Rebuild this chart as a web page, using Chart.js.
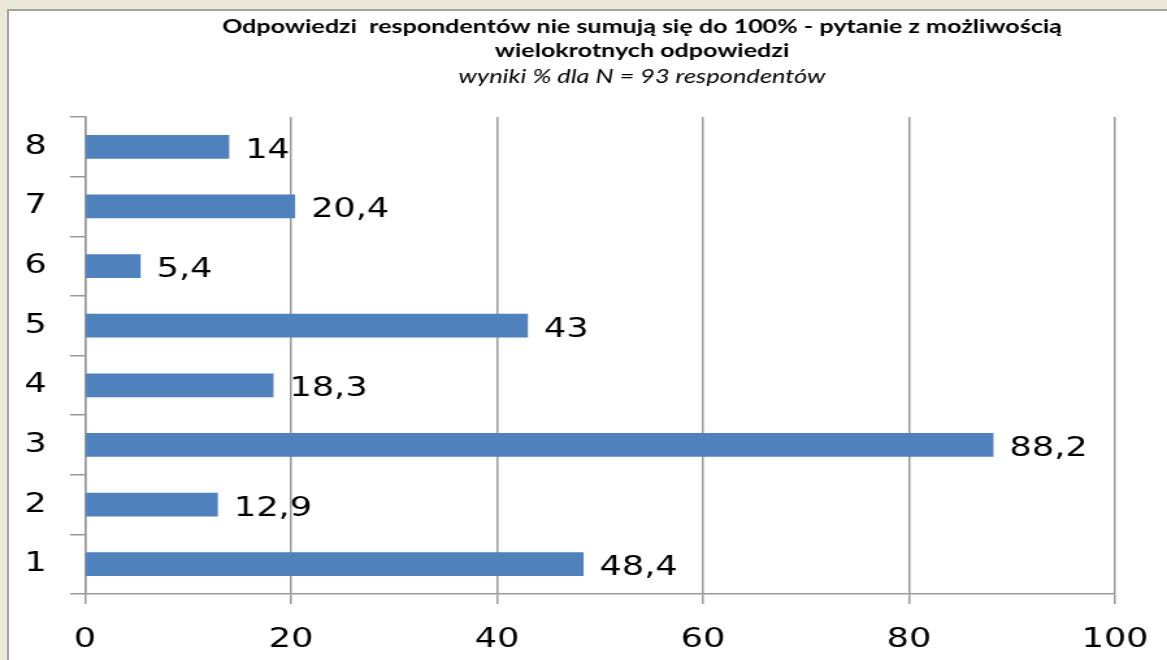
<!DOCTYPE html>
<html>
<head>
<meta charset="utf-8">
<script src="https://cdn.jsdelivr.net/npm/chart.js@4/dist/chart.umd.min.js"></script>
<style>
  html, body { margin: 0; padding: 0; width: 1167px; height: 660px; overflow: hidden; background: #ECE9D8; }
  #frame { position: absolute; left: 7px; top: 9px; width: 1200px; height: 700px; background: #ffffff;
           border-left: 2px solid #a3a3a3; border-top: 2px solid #a3a3a3; }
  #c { position: absolute; left: 0; top: 0; transform-origin: 0 0; }
</style>
</head>
<body>
<div id="frame"></div>
<canvas id="c" width="898" height="660"></canvas>
<script>
// ---- data ----
const categories = ['1', '2', '3', '4', '5', '6', '7', '8'];
const values = [48.4, 12.9, 88.2, 18.3, 43, 5.4, 20.4, 14];
const xTickValues = [0, 20, 40, 60, 80, 100];
const titleLines = ['Odpowiedzi  respondentów nie sumują się do 100% - pytanie z możliwością', 'wielokrotnych odpowiedzi'];
const subtitleText = 'wyniki % dla N = 93 respondentów';

// ---- horizontal stretch of the original picture ----
const LOGICAL_W = 898;
const S = 1167 / LOGICAL_W;
const canvas = document.getElementById('c');
canvas.style.transform = 'scaleX(' + S + ')';

const GRID = '#999999';
const TICK_FONT = { family: 'DejaVu Sans', size: 27 };
const X_TICK_FONT = { family: 'DejaVu Sans', size: 27, lineHeight: 2.25 };

function fitSize(ctx, text, style, family, targetW) {
  ctx.font = style + ' 100px ' + family;
  const w = ctx.measureText(text).width;
  return 100 * targetW / w;
}

const titlePlugin = {
  id: 'titles',
  afterDraw(chart) {
    const ctx = chart.ctx;
    ctx.save();
    ctx.fillStyle = '#000';
    ctx.textAlign = 'center';
    ctx.textBaseline = 'alphabetic';
    const cx = 642 / S;
    const fam = 'Lato';
    const s1 = fitSize(ctx, titleLines[0], 'bold', fam, 840 / S);
    ctx.font = 'bold ' + s1 + 'px ' + fam;
    ctx.fillText(titleLines[0], cx, 33);
    ctx.fillText(titleLines[1], cx, 57);
    const s2 = fitSize(ctx, subtitleText, 'italic', fam, 367 / S);
    ctx.font = 'italic ' + s2 + 'px ' + fam;
    ctx.fillText(subtitleText, cx, 83);
    ctx.restore();
  }
};

const valueLabelPlugin = {
  id: 'valueLabels',
  afterDatasetsDraw(chart) {
    const ctx = chart.ctx;
    const meta = chart.getDatasetMeta(0);
    ctx.save();
    ctx.fillStyle = '#000';
    ctx.font = TICK_FONT.size + 'px ' + TICK_FONT.family;
    ctx.textAlign = 'left';
    ctx.textBaseline = 'middle';
    meta.data.forEach((bar, i) => {
      const txt = String(values[i]).replace('.', ',');
      ctx.fillText(txt, bar.x + 16 / S, bar.y + 4);
    });
    ctx.restore();
  }
};

new Chart(canvas, {
  type: 'bar',
  data: {
    labels: categories,
    datasets: [{
      data: values,
      backgroundColor: '#4F81BD',
      borderWidth: 0,
      barPercentage: 0.4,
      categoryPercentage: 1.0
    }]
  },
  options: {
    indexAxis: 'y',
    responsive: false,
    animation: false,
    layout: { padding: { top: 117, right: 52 / S, left: 0, bottom: 0 } },
    plugins: { legend: { display: false }, tooltip: { enabled: false }, title: { display: false } },
    scales: {
      x: {
        min: xTickValues[0],
        max: xTickValues[xTickValues.length - 1],
        afterBuildTicks(scale) { scale.ticks = xTickValues.map(v => ({ value: v })); },
        ticks: { color: '#000', font: X_TICK_FONT, padding: 6, maxRotation: 0, autoSkip: false },
        grid: { color: GRID, lineWidth: 1.5, tickLength: 10, drawTicks: true },
        border: { color: GRID, width: 1.5 },
        afterFit(scale) { scale.height = 66; }
      },
      y: {
        reverse: true,
        offset: true,
        ticks: { color: '#000', font: TICK_FONT, padding: 18 },
        grid: { offset: true, drawOnChartArea: false, drawTicks: true, tickLength: 15 / S, color: GRID, lineWidth: 1.5 },
        border: { color: GRID, width: 1.5 },
        afterFit(scale) { scale.width = 85 / S; }
      }
    }
  },
  plugins: [titlePlugin, valueLabelPlugin]
});
</script>
</body>
</html>
